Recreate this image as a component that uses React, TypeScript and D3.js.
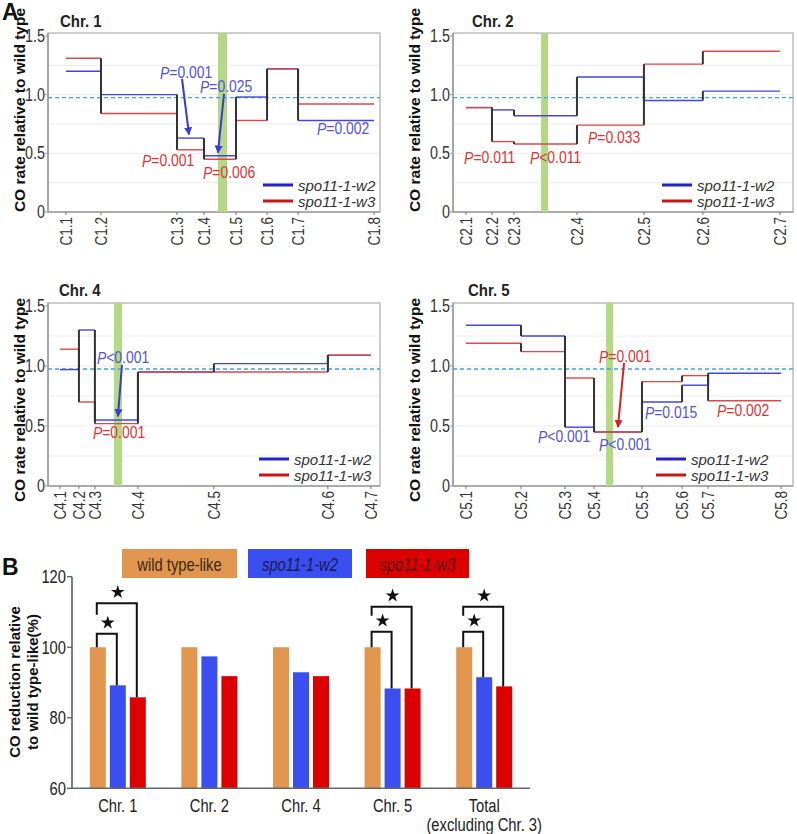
import React from "react";
import * as d3 from "d3";

// ---------- Panel A data ----------
const chr1Markers = ["C1.1", "C1.2", "C1.3", "C1.4", "C1.5", "C1.6", "C1.7", "C1.8"];
const chr1Pos = [0, 3.41, 10.81, 13.44, 16.56, 19.58, 22.6, 30.0];
const chr1W2 = [1.2, 1.0, 0.63, 0.48, 0.98, 1.22, 0.78];
const chr1W3 = [1.31, 0.84, 0.53, 0.45, 0.78, 1.22, 0.92];
const chr1Cen = [14.8, 15.68];
const chr1Domain = [-1.75, 30.58];

const chr2Markers = ["C2.1", "C2.2", "C2.3", "C2.4", "C2.5", "C2.6", "C2.7"];
const chr2Pos = [0, 1.61, 2.98, 6.89, 11.05, 14.71, 19.5];
const chr2W2 = [0.89, 0.87, 0.82, 1.15, 0.95, 1.03];
const chr2W3 = [0.89, 0.6, 0.58, 0.74, 1.26, 1.37];
const chr2Cen = [4.66, 5.09];
const chr2Domain = [-0.81, 20.31];

const chr4Markers = ["C4.1", "C4.2", "C4.3", "C4.4", "C4.5", "C4.6", "C4.7"];
const chr4Pos = [0, 1.13, 2.08, 4.64, 9.16, 15.94, 18.5];
const chr4W2 = [0.97, 1.3, 0.55, 0.95, 1.02, 1.09];
const chr4W3 = [1.14, 0.7, 0.52, 0.95, 0.95, 1.09];
const chr4Cen = [3.21, 3.69];
const chr4Domain = [-0.71, 19.04];

const chr5Markers = ["C5.1", "C5.2", "C5.3", "C5.4", "C5.5", "C5.6", "C5.7", "C5.8"];
const chr5Pos = [0, 4.63, 8.33, 10.77, 14.8, 18.17, 20.36, 26.5];
const chr5W2 = [1.34, 1.25, 0.49, 0.45, 0.7, 0.84, 0.94];
const chr5W3 = [1.19, 1.12, 0.9, 0.45, 0.87, 0.92, 0.71];
const chr5Cen = [11.78, 12.37];
const chr5Domain = [-1.09, 27.5];

const wildTypeLevel = 0.975;
const yTicks = [0, 0.5, 1.0, 1.5];
const yTickLabels = ["0", "0.5", "1.0", "1.5"];

// P-value notes: text start (x in Mb, y in rate), series
const chr1Notes = [
  { s: "w2", op: "=0.001", x: 9.16, y: 1.19 },
  { s: "w2", op: "=0.025", x: 13.05, y: 1.074 },
  { s: "w2", op: "=0.002", x: 24.45, y: 0.716 },
  { s: "w3", op: "=0.001", x: 7.4, y: 0.443 },
  { s: "w3", op: "=0.006", x: 13.34, y: 0.341 },
];
const chr1Arrows = [
  { s: "w2", x1: 11.3, y1: 1.134, x2: 11.98, y2: 0.66 },
  { s: "w2", x1: 15.39, y1: 1.006, x2: 14.8, y2: 0.505 },
];
const chr2Notes = [
  { s: "w3", op: "=0.011", x: -0.12, y: 0.469 },
  { s: "w3", op: "<0.011", x: 3.97, y: 0.469 },
  { s: "w3", op: "=0.033", x: 7.58, y: 0.639 },
];
const chr2Arrows: any[] = [];
const chr4Notes = [
  { s: "w2", op: "<0.001", x: 2.2, y: 1.075 },
  { s: "w3", op: "=0.001", x: 1.96, y: 0.45 },
];
const chr4Arrows = [{ s: "w2", x1: 3.69, y1: 1.008, x2: 3.45, y2: 0.58 }];
const chr5Notes = [
  { s: "w3", op: "=0.001", x: 11.19, y: 1.083 },
  { s: "w2", op: "<0.001", x: 6.06, y: 0.417 },
  { s: "w2", op: "<0.001", x: 11.19, y: 0.35 },
  { s: "w2", op: "=0.015", x: 15.05, y: 0.617 },
  { s: "w3", op: "=0.002", x: 21.11, y: 0.633 },
];
const chr5Arrows = [{ s: "w3", x1: 13.29, y1: 1.025, x2: 12.78, y2: 0.49 }];

const seriesNames = ["spo11-1-w2", "spo11-1-w3"];

// ---------- Panel B data ----------
const barGroups = ["Chr. 1", "Chr. 2", "Chr. 4", "Chr. 5", "Total"];
const barSeries = ["wild type-like", "spo11-1-w2", "spo11-1-w3"];
const wildTypeLikePct = [100, 100, 100, 100, 100];
const w2Pct = [89.2, 97.4, 92.9, 88.3, 91.5];
const w3Pct = [85.8, 91.8, 91.8, 88.3, 88.9];
const barYTicks = [60, 80, 100, 120];
const sigBrackets = [
  { g: 0, t: 1, top: 103.8, leftFrom: 100 },
  { g: 0, t: 2, top: 112.5, leftFrom: 109.2 },
  { g: 3, t: 1, top: 104.4, leftFrom: 100 },
  { g: 3, t: 2, top: 111.5, leftFrom: 108.9 },
  { g: 4, t: 1, top: 104.4, leftFrom: 100 },
  { g: 4, t: 2, top: 111.5, leftFrom: 108.9 },
];

// ---------- styles ----------
const ARIAL = "'Liberation Sans', Arial, sans-serif";
const SQ = 0.82; // horizontal squeeze for the narrow typeface
const C_W2 = "#4444e0";
const C_W3 = "#e04848";
const T_W2 = "#5454d8";
const T_W3 = "#e03434";
const LEG_W2 = "#2222c8";
const LEG_W3 = "#cc1414";
const BAR_COLORS = ["#e0964f", "#3b4ff0", "#dc0000"];
const BAR_TEXT = ["#3a2a12", "#1a1a55", "#5a0606"];

const ROWS = [
  { zero: 212, top: 36, labelY: 110, titleY: 21 },
  { zero: 486, top: 306, labelY: 400, titleY: 290 },
];
const COLS = [
  { left: 48, right: 380, labelX: 19 },
  { left: 453, right: 793, labelX: 414 },
];

const panels = [
  { title: "Chr. 1", markers: chr1Markers, pos: chr1Pos, w2: chr1W2, w3: chr1W3, cen: chr1Cen, domain: chr1Domain, notes: chr1Notes, arrows: chr1Arrows, row: 0, col: 0, legX: 263, titleX: 60 },
  { title: "Chr. 2", markers: chr2Markers, pos: chr2Pos, w2: chr2W2, w3: chr2W3, cen: chr2Cen, domain: chr2Domain, notes: chr2Notes, arrows: chr2Arrows, row: 0, col: 1, legX: 662, titleX: 472 },
  { title: "Chr. 4", markers: chr4Markers, pos: chr4Pos, w2: chr4W2, w3: chr4W3, cen: chr4Cen, domain: chr4Domain, notes: chr4Notes, arrows: chr4Arrows, row: 1, col: 0, legX: 259, titleX: 59 },
  { title: "Chr. 5", markers: chr5Markers, pos: chr5Pos, w2: chr5W2, w3: chr5W3, cen: chr5Cen, domain: chr5Domain, notes: chr5Notes, arrows: chr5Arrows, row: 1, col: 1, legX: 656, titleX: 468 },
];

function NT(props: any) {
  const { x, y, anchor = "start", rotate = 0, sx = SQ, children, ...rest } = props;
  return (
    <text
      transform={`translate(${x},${y}) rotate(${rotate}) scale(${sx},1)`}
      textAnchor={anchor}
      dominantBaseline="central"
      fontFamily={ARIAL}
      {...rest}
    >
      {children}
    </text>
  );
}

function Panel({ p }: { p: any }) {
  const row = ROWS[p.row];
  const col = COLS[p.col];
  const x = d3.scaleLinear().domain(p.domain).range([col.left, col.right]);
  const y = d3.scaleLinear().domain([0, 1.5]).range([row.zero, row.top]);
  const frameTop = y(1.525);
  const gridVals = d3.range(0.25, 1.5, 0.25);
  const series = [
    { key: "w2", vals: p.w2, color: C_W2 },
    { key: "w3", vals: p.w3, color: C_W3 },
  ];
  return (
    <g>
      {gridVals.map((v: number) => (
        <line key={"g" + v} x1={col.left} x2={col.right} y1={y(v)} y2={y(v)} stroke="#ececec" strokeWidth={1} />
      ))}
      <rect x={col.left} y={frameTop} width={col.right - col.left} height={row.zero - frameTop} fill="none" stroke="#bdbdbd" strokeWidth={1.5} />
      <line x1={col.left} x2={col.left} y1={frameTop} y2={row.zero} stroke="#9a9a9a" strokeWidth={1.5} />
      <line x1={col.left} x2={col.right} y1={row.zero} y2={row.zero} stroke="#a0a0a0" strokeWidth={1.5} />
      <rect x={x(p.cen[0])} y={frameTop} width={x(p.cen[1]) - x(p.cen[0])} height={row.zero - frameTop} fill="#b4d886" />
      <line x1={col.left} x2={col.right} y1={y(wildTypeLevel)} y2={y(wildTypeLevel)} stroke="#3aa6e6" strokeWidth={1.4} strokeDasharray="4,3" />
      {series.map((s) =>
        s.vals.map((v: number, i: number) => (
          <line key={s.key + i} x1={x(p.pos[i])} x2={x(p.pos[i + 1])} y1={y(v)} y2={y(v)} stroke={s.color} strokeWidth={1.4} />
        ))
      )}
      {series.map((s) =>
        s.vals.slice(1).map((v: number, i: number) => (
          <line key={"v" + s.key + i} x1={x(p.pos[i + 1])} x2={x(p.pos[i + 1])} y1={y(s.vals[i])} y2={y(v)} stroke="#333" strokeWidth={2} />
        ))
      )}
      {p.arrows.map((a: any, i: number) => (
        <line key={"a" + i} x1={x(a.x1)} y1={y(a.y1)} x2={x(a.x2)} y2={y(a.y2)} stroke={a.s === "w2" ? "#3a3ad4" : "#d42222"} strokeWidth={2} markerEnd={a.s === "w2" ? "url(#arrW2)" : "url(#arrW3)"} />
      ))}
      {p.notes.map((n: any, i: number) => (
        <NT key={"n" + i} x={x(n.x)} y={y(n.y)} fontSize={17} fill={n.s === "w2" ? T_W2 : T_W3}>
          <tspan fontStyle="italic">P</tspan>
          {n.op}
        </NT>
      ))}
      {yTicks.map((v, i) => (
        <g key={"yt" + v}>
          <line x1={col.left - 3} x2={col.left} y1={y(v)} y2={y(v)} stroke="#9a9a9a" />
          <NT x={col.left - 3} y={y(v)} anchor="end" fontSize={17.5} fill="#333">
            {yTickLabels[i]}
          </NT>
        </g>
      ))}
      {p.markers.map((m: string, i: number) => (
        <g key={"xt" + m}>
          <line x1={x(p.pos[i])} x2={x(p.pos[i])} y1={row.zero} y2={row.zero + 3} stroke="#777" />
          <NT x={x(p.pos[i])} y={row.zero + 5} rotate={-90} anchor="end" fontSize={16.5} fill="#333">
            {m}
          </NT>
        </g>
      ))}
      <NT x={p.titleX} y={row.titleY} sx={0.88} fontWeight="bold" fontSize={17} fill="#222">
        {p.title}
      </NT>
      <text transform={`translate(${col.labelX},${row.labelY}) rotate(-90)`} textAnchor="middle" dominantBaseline="central" fontFamily={ARIAL} fontWeight="bold" fontSize={15.5} fill="#111">
        CO rate relative to wild type
      </text>
      {seriesNames.map((s, i) => (
        <g key={"lg" + s}>
          <line x1={p.legX} x2={p.legX + 30} y1={row.zero - 27 + i * 16} y2={row.zero - 27 + i * 16} stroke={i === 0 ? LEG_W2 : LEG_W3} strokeWidth={3} />
          <text x={p.legX + 35} y={row.zero - 27 + i * 16} dominantBaseline="central" fontFamily={ARIAL} fontStyle="italic" fontSize={15} fill="#333">
            {s}
          </text>
        </g>
      ))}
    </g>
  );
}

function BarChart() {
  const gx = d3.scaleBand().domain(barGroups).range([72, 530]).padding(0);
  const sx = d3.scaleBand().domain(barSeries).range([0, 56]).paddingInner(0.2).paddingOuter(0);
  const y = d3.scaleLinear().domain([60, 120]).range([788.3, 576.7]);
  const seriesVals = [wildTypeLikePct, w2Pct, w3Pct];
  const barX = (g: number, s: number) => (gx(barGroups[g]) as number) + gx.bandwidth() / 2 - 28 + (sx(barSeries[s]) as number);
  const star = d3.symbol().type(d3.symbolStar).size(58)();
  const legendBoxes = [
    { x0: 122, x1: 237 },
    { x0: 248, x1: 352 },
    { x0: 366, x1: 469 },
  ];
  return (
    <g>
      {barSeries.map((s, i) => (
        <g key={"bl" + s}>
          <rect x={legendBoxes[i].x0} y={549} width={legendBoxes[i].x1 - legendBoxes[i].x0} height={29} fill={BAR_COLORS[i]} />
          <NT x={(legendBoxes[i].x0 + legendBoxes[i].x1) / 2} y={564} anchor="middle" fontSize={18} fontStyle={i === 0 ? "normal" : "italic"} fill={BAR_TEXT[i]}>
            {s}
          </NT>
        </g>
      ))}
      {seriesVals.map((vals, s) =>
        vals.map((v, g) => (
          <rect key={"b" + s + g} x={barX(g, s)} y={y(v)} width={sx.bandwidth()} height={y(60) - y(v)} fill={BAR_COLORS[s]} />
        ))
      )}
      {sigBrackets.map((b, i) => {
        const xl = barX(b.g, 0) + sx.bandwidth() / 2 - 1;
        const xr = barX(b.g, b.t) + sx.bandwidth() / 2 - 1;
        const yt = y(b.top);
        const yl = y(b.leftFrom);
        const yr = y(seriesVals[b.t][b.g]);
        return (
          <g key={"br" + i}>
            <path d={`M${xl},${yl}V${yt}H${xr}V${yr}`} fill="none" stroke="#111" strokeWidth={2} />
            <path d={star} transform={`translate(${(xl + xr) / 2 + 1},${yt - 11})`} fill="#111" />
          </g>
        );
      })}
      <line x1={72} x2={72} y1={y(120)} y2={y(60)} stroke="#555" strokeWidth={1.5} />
      <line x1={72} x2={530} y1={y(60)} y2={y(60)} stroke="#666" strokeWidth={1.5} />
      {barYTicks.map((v) => (
        <g key={"byt" + v}>
          <line x1={67} x2={72} y1={y(v)} y2={y(v)} stroke="#555" strokeWidth={1.2} />
          <NT x={66} y={y(v)} anchor="end" fontSize={18} fill="#222">
            {v}
          </NT>
        </g>
      ))}
      {barGroups.map((g) => (
        <NT key={"bx" + g} x={(gx(g) as number) + gx.bandwidth() / 2} y={805} anchor="middle" fontSize={18} fill="#222">
          {g}
        </NT>
      ))}
      <NT x={(gx("Total") as number) + gx.bandwidth() / 2} y={824} anchor="middle" fontSize={18} fill="#222">
        (excluding Chr. 3)
      </NT>
      <text transform="translate(14,682) rotate(-90)" textAnchor="middle" dominantBaseline="central" fontFamily={ARIAL} fontWeight="bold" fontSize={15} fill="#111">
        CO reduction relative
      </text>
      <text transform="translate(32,682) rotate(-90)" textAnchor="middle" dominantBaseline="central" fontFamily={ARIAL} fontWeight="bold" fontSize={15} fill="#111">
        to wild type-like(%)
      </text>
    </g>
  );
}

export default function App() {
  return (
    <svg width={797} height={834} style={{ position: "absolute", left: 0, top: 0, background: "#fff" }}>
      <defs>
        <marker id="arrW2" viewBox="0 0 10 10" refX={9} refY={5} markerWidth={4} markerHeight={4} orient="auto">
          <path d="M0,0L10,5L0,10z" fill="#3a3ad4" />
        </marker>
        <marker id="arrW3" viewBox="0 0 10 10" refX={9} refY={5} markerWidth={4} markerHeight={4} orient="auto">
          <path d="M0,0L10,5L0,10z" fill="#d42222" />
        </marker>
      </defs>
      <rect width={797} height={834} fill="#fff" />
      <text x={2} y={20} fontFamily={ARIAL} fontWeight="bold" fontSize={23} fill="#111">A</text>
      <text x={2} y={575} fontFamily={ARIAL} fontWeight="bold" fontSize={23} fill="#111">B</text>
      {panels.map((p) => (
        <Panel key={p.title} p={p} />
      ))}
      <BarChart />
    </svg>
  );
}
